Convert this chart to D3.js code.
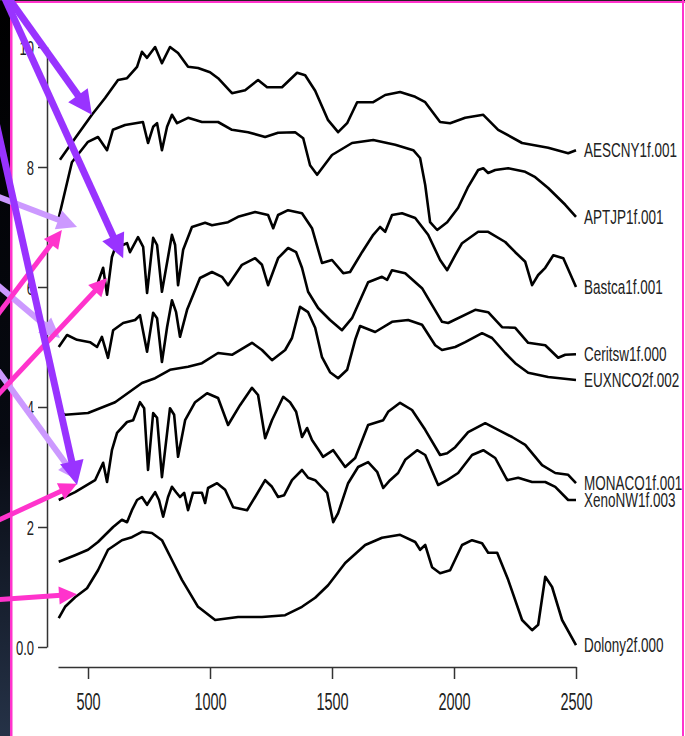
<!DOCTYPE html>
<html>
<head>
<meta charset="utf-8">
<script src="https://d3js.org/d3.v7.min.js"></script>
<style>
  body { margin: 0; background: #fff; }
  svg { display: block; }
</style>
</head>
<body>
<svg id="vis"></svg>
<script>
  // Spectra: [wavelength, value]
  var aescny = [[385,8.12],[447,8.48],[516,8.87],[570,9.15],[623,9.45],[660,9.48],[701,9.67],[721,9.92],[742,9.82],[775,10.0],
    [803,9.73],[836,10.0],[869,9.9],[910,9.67],[951,9.65],[1000,9.58],[1033,9.48],[1090,9.23],[1144,9.28],[1197,9.45],
    [1234,9.33],[1295,9.33],[1357,9.57],[1390,9.53],[1431,9.27],[1484,8.78],[1525,8.58],[1562,8.73],[1603,9.08],[1669,9.08],
    [1718,9.2],[1779,9.25],[1841,9.17],[1882,9.08],[1943,8.75],[1984,8.73],[2046,8.82],[2120,8.87],[2181,8.62],[2279,8.4],
    [2386,8.32],[2468,8.23],[2500,8.28]]

  var aptjp = [[380,7.15],[434,8.08],[500,8.42],[541,8.5],[578,8.28],[602,8.62],[652,8.7],[725,8.75],[746,8.4],[767,8.67],
    [783,8.73],[803,8.28],[824,8.67],[844,8.87],[865,8.73],[910,8.82],[967,8.75],[1033,8.75],[1090,8.62],[1156,8.58],
    [1226,8.5],[1279,8.57],[1349,8.58],[1382,8.48],[1410,8.03],[1439,7.87],[1500,8.2],[1582,8.4],[1669,8.45],[1759,8.37],
    [1833,8.28],[1861,8.15],[1882,7.7],[1902,7.08],[1931,6.95],[1972,7.08],[2017,7.32],[2058,7.67],[2099,7.95],[2120,7.98],
    [2140,7.9],[2169,7.95],[2222,7.98],[2292,7.92],[2333,7.83],[2386,7.65],[2456,7.37],[2500,7.17]]

  var bastca = [[541,6.08],[562,6.32],[578,5.87],[598,6.5],[611,6.65],[660,6.73],[672,6.58],[705,6.83],[726,6.67],[742,5.9],
    [767,6.82],[783,6.7],[803,5.92],[844,6.87],[857,6.7],[869,6.03],[890,6.62],[926,7.0],[980,7.07],[1008,7.03],
    [1074,7.08],[1115,7.17],[1185,7.25],[1238,7.2],[1259,6.98],[1279,7.2],[1320,7.28],[1377,7.23],[1418,6.98],[1459,6.4],
    [1500,6.45],[1546,6.23],[1574,6.25],[1623,6.58],[1669,6.87],[1697,7.0],[1718,6.92],[1746,7.2],[1787,7.23],[1841,7.15],
    [1894,6.87],[1943,6.45],[1972,6.28],[2005,6.53],[2033,6.73],[2099,6.92],[2140,6.92],[2210,6.75],[2251,6.58],[2292,6.42],
    [2320,6.03],[2345,6.2],[2374,6.32],[2407,6.53],[2448,6.48],[2500,6.0]]

  var ceritsw = [[380,5.0],[414,5.2],[455,5.12],[508,5.08],[537,5.0],[557,5.17],[582,4.82],[603,5.28],[644,5.4],[693,5.45],
    [713,5.53],[742,4.92],[767,5.57],[783,5.48],[803,4.75],[824,5.33],[844,5.78],[861,5.58],[877,5.17],[906,5.62],
    [959,6.15],[1008,6.25],[1049,6.17],[1074,6.03],[1131,6.37],[1185,6.48],[1213,6.37],[1238,6.03],[1279,6.48],[1320,6.65],
    [1353,6.58],[1377,6.32],[1402,5.92],[1443,5.65],[1492,5.45],[1541,5.28],[1582,5.48],[1648,6.08],[1705,6.17],[1726,6.12],
    [1746,6.28],[1800,6.23],[1869,5.98],[1951,5.42],[1976,5.4],[2087,5.62],[2140,5.58],[2197,5.33],[2251,5.32],[2304,5.07],
    [2374,5.03],[2427,4.82],[2456,4.87],[2500,4.88]]

  var euxnco = [[380,3.92],[406,3.87],[500,3.9],[611,4.08],[721,4.4],[775,4.48],[836,4.62],[910,4.67],[967,4.73],[1033,4.9],
    [1090,4.87],[1172,5.07],[1213,4.95],[1254,4.78],[1308,4.95],[1336,5.15],[1369,5.67],[1402,5.58],[1431,5.32],[1459,4.83],
    [1492,4.58],[1525,4.48],[1562,4.62],[1595,5.12],[1615,5.35],[1677,5.25],[1746,5.42],[1812,5.45],[1869,5.37],[1923,5.03],
    [1951,4.95],[2005,5.0],[2046,5.08],[2115,5.23],[2156,5.15],[2210,4.9],[2251,4.73],[2304,4.57],[2386,4.5],[2500,4.45]]

  var monaco = [[380,2.45],[447,2.58],[529,2.78],[562,3.07],[578,2.75],[598,3.28],[619,3.57],[660,3.75],[685,3.78],[713,4.08],
    [730,3.98],[746,2.95],[767,3.9],[783,3.82],[803,2.83],[836,3.98],[853,3.87],[869,3.17],[898,3.78],[939,4.08],
    [988,4.23],[1033,4.15],[1074,3.7],[1123,4.03],[1172,4.32],[1197,4.2],[1226,3.48],[1254,3.78],[1300,4.17],[1328,4.08],
    [1353,3.92],[1377,3.5],[1398,3.65],[1418,3.45],[1451,3.25],[1463,3.17],[1505,3.28],[1554,3.0],[1595,3.15],[1648,3.7],
    [1710,3.78],[1730,3.92],[1779,4.07],[1828,3.95],[1882,3.62],[1943,3.2],[1972,3.23],[2005,3.33],[2058,3.58],[2128,3.73],
    [2181,3.62],[2238,3.5],[2292,3.37],[2361,3.03],[2415,2.9],[2468,2.87],[2500,2.73]]

  var xeno = [[380,1.42],[447,1.53],[500,1.62],[541,1.75],[603,2.0],[639,2.12],[660,2.08],[680,2.28],[701,2.45],[721,2.5],
    [742,2.37],[762,2.5],[775,2.58],[791,2.45],[808,2.17],[828,2.5],[844,2.67],[861,2.58],[877,2.5],[894,2.57],
    [910,2.28],[930,2.57],[967,2.57],[980,2.4],[992,2.65],[1029,2.73],[1062,2.62],[1095,2.33],[1152,2.28],[1185,2.5],
    [1226,2.78],[1254,2.67],[1279,2.5],[1304,2.53],[1336,2.78],[1377,2.95],[1402,2.82],[1431,2.78],[1480,2.57],[1505,2.08],
    [1525,2.23],[1566,2.73],[1607,3.0],[1648,3.08],[1685,2.92],[1710,2.65],[1738,2.78],[1771,2.9],[1800,3.12],[1849,3.28],
    [1882,3.2],[1935,2.7],[1972,2.78],[2017,2.9],[2074,3.2],[2120,3.28],[2169,3.15],[2218,2.78],[2263,2.82],[2320,2.75],
    [2374,2.75],[2415,2.67],[2468,2.45],[2500,2.45]]

  var dolony = [[380,0.48],[406,0.67],[447,0.83],[496,0.98],[541,1.28],[582,1.62],[639,1.78],[680,1.83],[721,1.92],[762,1.9],
    [803,1.78],[844,1.45],[885,1.12],[951,0.67],[1021,0.45],[1115,0.5],[1213,0.5],[1308,0.53],[1377,0.67],[1431,0.82],
    [1484,1.03],[1554,1.4],[1636,1.7],[1705,1.82],[1779,1.87],[1841,1.75],[1861,1.62],[1882,1.7],[1910,1.33],[1943,1.23],
    [1984,1.28],[2033,1.7],[2074,1.78],[2115,1.73],[2140,1.57],[2177,1.57],[2222,1.12],[2279,0.45],[2320,0.28],[2345,0.37],
    [2374,1.17],[2402,1.0],[2443,0.45],[2500,0.03]]

  var seriesNames = ['AESCNY1f.001', 'APTJP1f.001', 'Bastca1f.001', 'Ceritsw1f.000', 'EUXNCO2f.002',
    'MONACO1f.001', 'XenoNW1f.003', 'Dolony2f.000']
  var seriesData = [aescny, aptjp, bastca, ceritsw, euxnco, monaco, xeno, dolony]

  var xTicks = [500, 1000, 1500, 2000, 2500]
  var yTicks = [0, 2, 4, 6, 8, 10]

  // annotation arrows, [tail, tip] in chart units
  var purpleArrows = [[[156,10.92],[516,8.87]], [[147,10.92],[644,6.48]], [[57,9.95],[455,2.7]]]
  var lilacArrows = [[[57,7.62],[455,7.0]], [[57,6.28],[385,5.15]], [[57,5.02],[459,2.78]]]
  var pinkArrows = [[[57,5.15],[393,6.95]], [[57,3.88],[578,6.15]], [[57,1.97],[455,2.72]], [[57,0.77],[455,0.88]]]

  var width = 685, height = 736
  var font = '"Liberation Sans", Arial, sans-serif'

  var svg = d3.select('#vis')
    .attr('width', width)
    .attr('height', height)

  svg.append('rect').attr('width', width).attr('height', height).attr('fill', '#fff')

  var x = d3.scaleLinear().domain([377, 2500]).range([58, 576])
  var y = d3.scaleLinear().domain([0, 10]).range([647, 47])

  // dark strip + pink frame
  var grad = svg.append('defs').append('linearGradient')
    .attr('id', 'strip').attr('x1', 0).attr('y1', 0).attr('x2', 0).attr('y2', 1)
  grad.append('stop').attr('offset', '0%').attr('stop-color', '#000')
  grad.append('stop').attr('offset', '60%').attr('stop-color', '#070a12')
  grad.append('stop').attr('offset', '100%').attr('stop-color', '#253247')
  svg.append('rect').attr('x', 0).attr('y', 0).attr('width', 10).attr('height', height).attr('fill', 'url(#strip)')
  svg.append('rect').attr('x', 10).attr('y', 0).attr('width', 2.5).attr('height', height).attr('fill', '#ff33cc')
  svg.append('rect').attr('x', 10).attr('y', 0).attr('width', width - 10).attr('height', 3).attr('fill', '#ff33cc')
  svg.append('rect').attr('x', 0).attr('y', 0).attr('width', width).attr('height', 1).attr('fill', '#222')
  svg.append('rect').attr('x', 682).attr('y', 0).attr('width', 2).attr('height', height).attr('fill', '#ff33cc')

  // axes
  var xAxis = svg.append('g')
    .attr('transform', 'translate(0,667)')
    .call(d3.axisBottom(x).tickValues(xTicks).tickSize(12).tickSizeOuter(0).tickFormat(d3.format('d')))

  var yAxis = svg.append('g')
    .attr('transform', 'translate(47,0)')
    .call(d3.axisLeft(y).tickValues(yTicks).tickSize(9).tickSizeOuter(0)
      .tickFormat(function(d) { return d === 0 ? '0.0' : d }))

  ;[xAxis, yAxis].forEach(function(ax) {
    ax.attr('font-family', font)
    ax.selectAll('.domain, .tick line').attr('stroke', '#333').attr('stroke-width', 1.5)
    ax.selectAll('text').attr('fill', '#222').attr('dy', null).attr('dominant-baseline', 'central')
  })

  xAxis.selectAll('text').attr('y', 0).attr('font-size', 14.5)
    .attr('transform', 'translate(0,35) scale(1,1.65)')
  yAxis.selectAll('text').attr('x', -13).attr('font-size', 13)
    .attr('transform', 'scale(1,1.6)')

  // spectra
  var specLine = d3.line().x(function(d) { return x(d[0]) }).y(function(d) { return y(d[1]) })

  svg.selectAll('.spec')
    .data(seriesData)
    .enter().append('path')
    .attr('class', 'spec')
    .attr('d', specLine)
    .attr('fill', 'none')
    .attr('stroke', '#000')
    .attr('stroke-width', 2.6)
    .attr('stroke-linejoin', 'round')

  svg.selectAll('.lab')
    .data(seriesData)
    .enter().append('text')
    .attr('class', 'lab')
    .attr('transform', function(d) {
      var last = d[d.length - 1]
      return 'translate(' + (x(last[0]) + 8) + ',' + y(last[1]) + ') scale(1,1.5)'
    })
    .attr('dominant-baseline', 'central')
    .attr('font-family', font)
    .attr('font-size', 13.5)
    .attr('fill', '#222')
    .text(function(d, i) { return seriesNames[i] })

  // arrows
  function drawArrows(list, color, shaft, headLen, headHalf) {
    list.forEach(function(a) {
      var x0 = x(a[0][0]), y0 = y(a[0][1]), x1 = x(a[1][0]), y1 = y(a[1][1])
      var len = Math.hypot(x1 - x0, y1 - y0)
      var ux = (x1 - x0) / len, uy = (y1 - y0) / len
      var bx = x1 - ux * headLen, by = y1 - uy * headLen
      svg.append('line')
        .attr('x1', x0).attr('y1', y0).attr('x2', bx + ux * 2).attr('y2', by + uy * 2)
        .attr('stroke', color).attr('stroke-width', shaft)
      svg.append('polygon')
        .attr('points', [[x1, y1], [bx - uy * headHalf, by + ux * headHalf], [bx + uy * headHalf, by - ux * headHalf]].join(' '))
        .attr('fill', color)
    })
  }

  drawArrows(lilacArrows, '#cc99ff', 6, 20, 10)
  drawArrows(pinkArrows, '#ff33cc', 5, 18, 9)
  drawArrows(purpleArrows, '#9933ff', 7, 24, 12)
</script>
</body>
</html>
